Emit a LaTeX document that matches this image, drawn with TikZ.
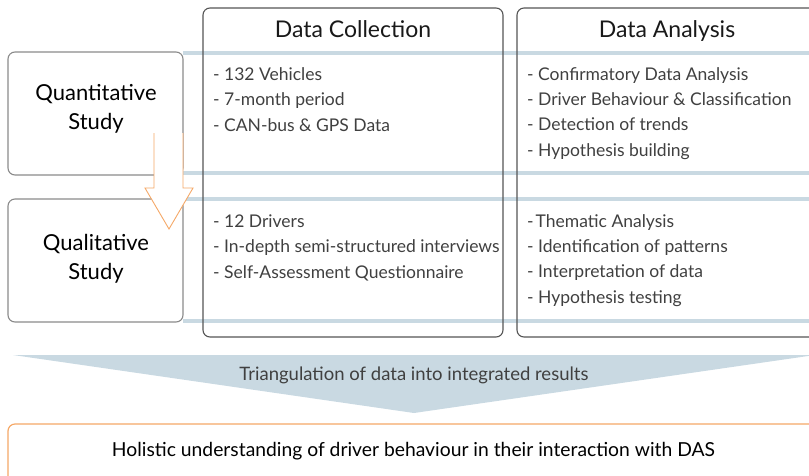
\documentclass[tikz,border=0pt]{standalone}
\usepackage{fontspec}
\setmainfont{Lato}
\definecolor{bluel}{HTML}{C9D9E2}
\definecolor{orangel}{HTML}{F5A867}
\definecolor{grayb}{HTML}{8A8A8A}
\definecolor{darkb}{HTML}{555555}
\definecolor{txt}{HTML}{404040}
\begin{document}
\begin{tikzpicture}[x=1pt,y=-1pt,
  blueline/.style={draw=bluel,line width=4pt},
  sidebox/.style={draw=grayb,line width=1.1pt,rounded corners=7pt,minimum width=175pt,minimum height=123pt,inner sep=0pt},
  colbox/.style={draw=darkb,line width=1.1pt,rounded corners=7pt,minimum height=329pt,inner sep=0pt},
  sidelbl/.style={anchor=base,align=center,inner sep=0pt,text=black,font=\fontsize{22}{29}\selectfont},
  headlbl/.style={anchor=base,inner sep=0pt,text=black!90,font=\fontsize{23}{28}\selectfont},
  listlbl/.style={anchor=base west,align=left,inner sep=0pt,text=txt,font=\fontsize{17.5}{25.2}\selectfont},
  arrowshape/.style={draw=orangel,fill=white,line width=0.9pt},
]
\useasboundingbox (0,0) rectangle (809,475);
\clip (0,0) rectangle (809,475);
% blue lines
\foreach \yy in {53,173,199,321} \draw[blueline] (183,\yy) -- (809,\yy);
% side boxes
\node[sidebox] (quant) at (95.5,113.5) {};
\node[sidebox] (qual) at (95.5,260.5) {};
\node[sidelbl] (quantlbl) at (96,129) {Quantitative\\Study};
\node[sidelbl] (quallbl) at (96,279) {Qualitative\\Study};
% column boxes
\node[colbox,minimum width=300pt] (coll) at (353,172.5) {};
\node[colbox,minimum width=313pt] (anal) at (673.5,172.5) {};
\node[headlbl] (collhead) at (353,37) {Data Collection};
\node[headlbl] (analhead) at (667,37) {Data Analysis};
% lists (base anchor = last line baseline)
\node[listlbl] (c1) at (213,131) {- 132 Vehicles\\- 7-month period\\- CAN-bus \& GPS Data};
\node[listlbl] (c2) at (213,278) {- 12 Drivers\\- In-depth semi-structured interviews\\- Self-Assessment Questionnaire};
\node[listlbl] (a1) at (527,156) {- Confirmatory Data Analysis\\- Driver Behaviour \& Classification\\- Detection of trends\\- Hypothesis building};
\node[listlbl] (a2) at (527,303) {-\kern2pt Thematic Analysis\\- Identification of patterns\\- Interpretation of data\\- Hypothesis testing};
% orange arrow
\path[arrowshape] (154,133) -- (154,188) -- (145,188) -- (169,229) -- (193,188) -- (183,188) -- (183,133);
% triangulation chevron
\fill[bluel] (13,355) -- (815,355) -- (414,413) -- cycle;
\node[anchor=base,inner sep=0pt,text=txt,font=\fontsize{18.5}{22}\selectfont] (tri) at (414,380) {Triangulation of data into integrated results};
% bottom box
\node[draw=orangel,line width=1.2pt,rounded corners=7pt,minimum width=822pt,minimum height=80pt,inner sep=0pt] (holbox) at (419,464) {};
\node[anchor=base,inner sep=0pt,text=black,font=\fontsize{19.3}{22}\selectfont] (hol) at (413.5,456) {Holistic understanding of driver behaviour in their interaction with DAS};
\end{tikzpicture}
\end{document}
